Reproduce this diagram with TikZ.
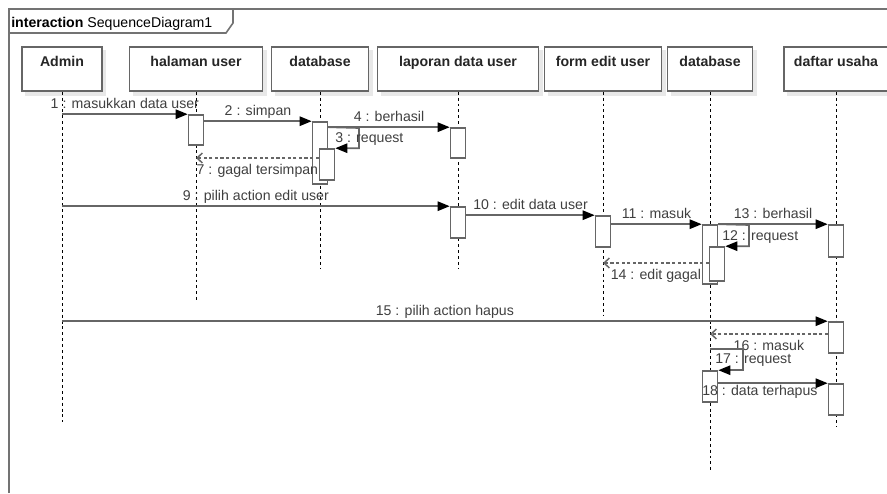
\documentclass[tikz,border=0pt]{standalone}
\usepackage{fontspec}
\setmainfont{Liberation Sans}
\usetikzlibrary{arrows.meta,calc}

\definecolor{linegray}{HTML}{666666}
\definecolor{framegray}{HTML}{737373}
\definecolor{textgray}{HTML}{3F3F3F}
\definecolor{headtext}{HTML}{262626}
\definecolor{shadowgray}{HTML}{E8E8E8}

% head box of a lifeline: name, centre x, width, label, lifeline end y
\newcommand\lifehead[5]{%
  \fill[shadowgray] ({#2-#3/2+3},50) rectangle ({#2+#3/2+4},96);
  \node[headbox, minimum width={#3*0.75pt}] (#1) at (#2,69) {};
  \node[headtxt] (#1txt) at ([yshift=-15pt]#1.north) {#4};
  \coordinate (#1end) at (#2,#5);
  \draw[lifeline] (#1.south) -- (#1end);
}
% activation bar: name, centre x, top y, bottom y
\newcommand\actbar[4]{%
  \node[act, minimum height={(#4-#3)*0.75pt}] (#1) at (#2,{(#3+#4)/2}) {};
}

\tikzset{
  headbox/.style={draw=linegray, line width=1.2pt, fill=white, rectangle,
    inner sep=0pt, minimum height=33pt},
  headtxt/.style={font=\bfseries\fontsize{10.6}{12}\selectfont, text=headtext,
    inner sep=0pt, anchor=base},
  lifeline/.style={draw=black, line width=0.75pt, dash pattern=on 2.2pt off 2.2pt},
  act/.style={draw=linegray, line width=1.2pt, fill=white, rectangle,
    inner sep=0pt, minimum width=11.25pt},
  msg/.style={draw=linegray, line width=1.25pt,
    -{Triangle[length=9pt,width=7pt,color=black,fill=black]}},
  ret/.style={draw=linegray, line width=1.1pt, dash pattern=on 2.4pt off 1.8pt,
    -{Straight Barb[length=4pt,width=7.5pt,color=linegray]}},
  lbl/.style={font=\fontsize{10.6}{12}\selectfont, text=textgray, inner sep=0pt},
  above lbl/.style={lbl, midway, anchor=base, yshift=4.5pt},
  below lbl/.style={lbl, midway, anchor=base, yshift=-12pt},
}

\begin{document}
\begin{tikzpicture}[x=0.75pt, y=-0.75pt]
\useasboundingbox (0,0) rectangle (887,493);

% interaction frame and its name tab
\draw[framegray, line width=1.6pt] (9,493) -- (9,9) -- (887,9);
\draw[framegray, line width=1.2pt] (9,33) -- (226,33) -- (233,23) -- (233,9);
\node[anchor=base west, inner sep=0pt, text=black,
  font=\fontsize{10.6}{12}\selectfont] (title) at (11,27)
  {\textbf{interaction} SequenceDiagram1};

% lifelines
\lifehead{admin}{62}{80}{Admin}{422}
\lifehead{hal}{196}{133}{halaman user}{302}
\lifehead{dba}{320}{97}{database}{268}
\lifehead{lap}{458}{161}{laporan data user}{268}
\lifehead{feu}{603}{117}{form edit user}{315}
\lifehead{dbb}{710}{85}{database}{473}
\lifehead{dus}{836}{104}{daftar usaha}{427}

% activation bars
\actbar{hal1}{196}{115}{145}
\actbar{dba1}{320}{122}{184}
\actbar{dba2}{327}{149}{180}
\actbar{lap1}{458}{128}{158}
\actbar{lap2}{458}{207}{238}
\actbar{feu1}{603}{216}{247}
\actbar{dbb1}{710}{225}{284}
\actbar{dbb2}{717}{247}{281}
\actbar{dus1}{836}{225}{257}
\actbar{dus2}{836}{322}{353}
\actbar{dbb3}{710}{371}{402}
\actbar{dus3}{836}{384}{415}

% messages
\draw[msg] (admin.south |- hal1.north) -- node[above lbl] (l1) {1 : masukkan data user} (hal1.north west);
\draw[msg] (hal1.east |- dba1.north) -- node[above lbl] (l2) {2 : simpan} (dba1.north west);
\draw[msg] (dba1.east |- lap1.north) -- node[above lbl] (l4) {4 : berhasil} (lap1.north west);
\coordinate (r3) at (359,128);
\draw[msg] (dba1.east |- lap1.north) -- (r3) -- (r3 |- dba2.north) -- (dba2.north east);
\node[lbl, anchor=base west] (l3) at (335,142) {3 : request};
\coordinate (y7) at (0,158);
\draw[ret] (dba2.west |- y7) -- node[below lbl] (l7) {7 : gagal tersimpan} (hal.south |- y7);

\draw[msg] (admin.south |- lap2.north) -- node[above lbl] (l9) {9 : pilih action edit user} (lap2.north west);
\draw[msg] (lap2.east |- feu1.north) -- node[above lbl] (l10) {10 : edit data user} (feu1.north west);
\draw[msg] (feu1.east |- dbb1.north) -- node[above lbl] (l11) {11 : masuk} (dbb1.north west);
\draw[msg] (dbb1.east |- dus1.north) -- node[above lbl] (l13) {13 : berhasil} (dus1.north west);
\coordinate (r12) at (749,225);
\draw[msg] (dbb1.north east) -- (r12) -- (r12 |- dbb2.north) -- (dbb2.north east);
\node[lbl, anchor=base west] (l12) at (722,240) {12 : request};
\coordinate (y14) at (0,263);
\draw[ret] (dbb2.west |- y14) -- node[below lbl] (l14) {14 : edit gagal} (feu.south |- y14);

\draw[msg] (admin.south |- dus2.north) -- node[above lbl] (l15) {15 : pilih action hapus} (dus2.north west);
\coordinate (y16) at (0,334);
\draw[ret] (dus2.west |- y16) -- node[below lbl] (l16) {16 : masuk} (dbb.south |- y16);
\coordinate (s17) at (710,349);
\coordinate (r17) at (743,349);
\draw[msg] (s17) -- (r17) -- (r17 |- dbb3.north) -- (dbb3.north east);
\node[lbl, anchor=base west] (l17) at (715,363) {17 : request};
\draw[msg] (dbb3.east |- dus3.north) -- (dus3.north west);
\node[lbl, anchor=base west] (l18) at (702,395) {18 : data terhapus};
\end{tikzpicture}
\end{document}
